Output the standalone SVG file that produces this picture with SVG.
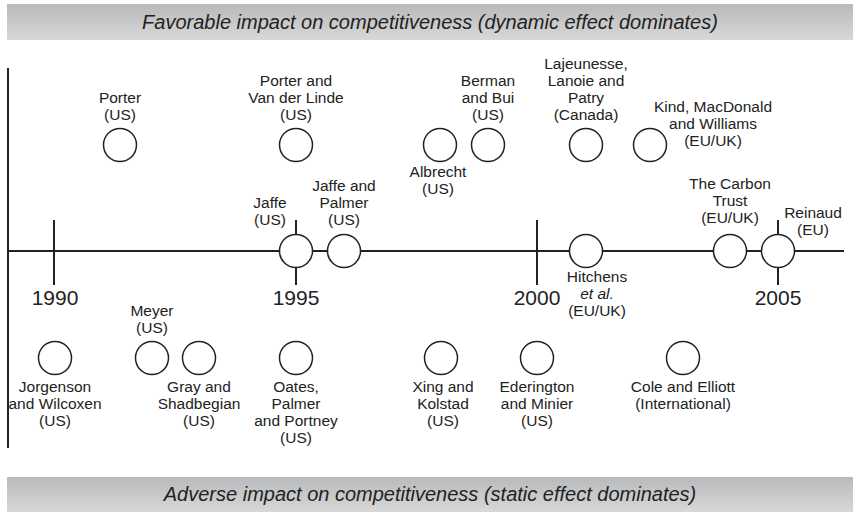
<svg xmlns="http://www.w3.org/2000/svg" width="858" height="512" viewBox="0 0 858 512">
<defs>
<linearGradient id="band" x1="0" y1="0" x2="0" y2="1">
<stop offset="0" stop-color="#b8b9bb"/>
<stop offset="1" stop-color="#d8d8d8"/>
</linearGradient>
<style>
.lbl{font-family:"Liberation Sans",Arial,sans-serif;font-size:15.5px;fill:#222;text-anchor:middle}
.yr{font-family:"Liberation Sans",Arial,sans-serif;font-size:21px;fill:#222;text-anchor:middle}
.ban{font-family:"Liberation Sans",Arial,sans-serif;font-size:20px;font-style:italic;fill:#222;text-anchor:middle}
.ax{stroke:#222;stroke-width:2;fill:none}
.c{fill:#fff;stroke:#222;stroke-width:1.5}
</style>
</defs>
<rect width="858" height="512" fill="#fff"/>
<g id="banner-top">
<rect x="7" y="4" width="846" height="36" fill="url(#band)"/>
<text class="ban" x="430" y="29">Favorable impact on competitiveness (dynamic effect dominates)</text>
</g>
<g id="banner-bottom">
<rect x="7" y="477" width="846" height="35" fill="url(#band)"/>
<text class="ban" x="430" y="501">Adverse impact on competitiveness (static effect dominates)</text>
</g>
<g id="connectors">
<line class="ax" x1="8" y1="68" x2="8" y2="448"/>
<line class="ax" x1="8" y1="251" x2="844" y2="251"/>
<line class="ax" x1="54" y1="220" x2="54" y2="285"/>
<line class="ax" x1="296" y1="220" x2="296" y2="285"/>
<line class="ax" x1="537" y1="220" x2="537" y2="285"/>
<line class="ax" x1="778" y1="220" x2="778" y2="285"/>
</g>
<g id="years">
<text class="yr" x="55" y="305">1990</text>
<text class="yr" x="296" y="305">1995</text>
<text class="yr" x="537" y="305">2000</text>
<text class="yr" x="778" y="305">2005</text>
</g>
<g id="porter"><circle class="c" cx="120" cy="145" r="16.5"/><text class="lbl" x="120" y="103">Porter</text><text class="lbl" x="120" y="120">(US)</text></g>
<g id="porter-vdl"><circle class="c" cx="296" cy="145" r="16.5"/><text class="lbl" x="296" y="86">Porter and</text><text class="lbl" x="296" y="103">Van der Linde</text><text class="lbl" x="296" y="120">(US)</text></g>
<g id="albrecht"><circle class="c" cx="440" cy="145" r="16.5"/><text class="lbl" x="438" y="177">Albrecht</text><text class="lbl" x="438" y="194">(US)</text></g>
<g id="berman-bui"><circle class="c" cx="488" cy="145" r="16.5"/><text class="lbl" x="488" y="86">Berman</text><text class="lbl" x="488" y="103">and Bui</text><text class="lbl" x="488" y="120">(US)</text></g>
<g id="lajeunesse"><circle class="c" cx="586" cy="145" r="16.5"/><text class="lbl" x="586" y="69">Lajeunesse,</text><text class="lbl" x="586" y="86">Lanoie and</text><text class="lbl" x="586" y="103">Patry</text><text class="lbl" x="586" y="120">(Canada)</text></g>
<g id="kind"><circle class="c" cx="650" cy="145" r="16.5"/><text class="lbl" x="713" y="112">Kind, MacDonald</text><text class="lbl" x="713" y="129">and Williams</text><text class="lbl" x="713" y="146">(EU/UK)</text></g>
<g id="jaffe"><circle class="c" cx="296" cy="251" r="16.5"/><text class="lbl" x="270" y="208">Jaffe</text><text class="lbl" x="270" y="225">(US)</text></g>
<g id="jaffe-palmer"><circle class="c" cx="344" cy="251" r="16.5"/><text class="lbl" x="344" y="191">Jaffe and</text><text class="lbl" x="344" y="208">Palmer</text><text class="lbl" x="344" y="225">(US)</text></g>
<g id="hitchens"><circle class="c" cx="586" cy="251" r="16.5"/><text class="lbl" x="597" y="282">Hitchens</text><text class="lbl" x="597" y="299" font-style="italic">et al.</text><text class="lbl" x="597" y="316">(EU/UK)</text></g>
<g id="carbon-trust"><circle class="c" cx="730" cy="251" r="16.5"/><text class="lbl" x="730" y="189">The Carbon</text><text class="lbl" x="730" y="206">Trust</text><text class="lbl" x="730" y="223">(EU/UK)</text></g>
<g id="reinaud"><circle class="c" cx="778" cy="251" r="16.5"/><text class="lbl" x="813" y="218">Reinaud</text><text class="lbl" x="813" y="235">(EU)</text></g>
<g id="jorgenson"><circle class="c" cx="55" cy="358" r="16.5"/><text class="lbl" x="55" y="392">Jorgenson</text><text class="lbl" x="55" y="409">and Wilcoxen</text><text class="lbl" x="55" y="426">(US)</text></g>
<g id="meyer"><circle class="c" cx="152" cy="358" r="16.5"/><text class="lbl" x="152" y="316">Meyer</text><text class="lbl" x="152" y="333">(US)</text></g>
<g id="gray"><circle class="c" cx="199" cy="358" r="16.5"/><text class="lbl" x="199" y="392">Gray and</text><text class="lbl" x="199" y="409">Shadbegian</text><text class="lbl" x="199" y="426">(US)</text></g>
<g id="oates"><circle class="c" cx="296" cy="358" r="16.5"/><text class="lbl" x="296" y="392">Oates,</text><text class="lbl" x="296" y="409">Palmer</text><text class="lbl" x="296" y="426">and Portney</text><text class="lbl" x="296" y="443">(US)</text></g>
<g id="xing"><circle class="c" cx="441" cy="358" r="16.5"/><text class="lbl" x="443" y="392">Xing and</text><text class="lbl" x="443" y="409">Kolstad</text><text class="lbl" x="443" y="426">(US)</text></g>
<g id="ederington"><circle class="c" cx="537" cy="358" r="16.5"/><text class="lbl" x="537" y="392">Ederington</text><text class="lbl" x="537" y="409">and Minier</text><text class="lbl" x="537" y="426">(US)</text></g>
<g id="cole"><circle class="c" cx="683" cy="358" r="16.5"/><text class="lbl" x="683" y="392">Cole and Elliott</text><text class="lbl" x="683" y="409">(International)</text></g>
</svg>
